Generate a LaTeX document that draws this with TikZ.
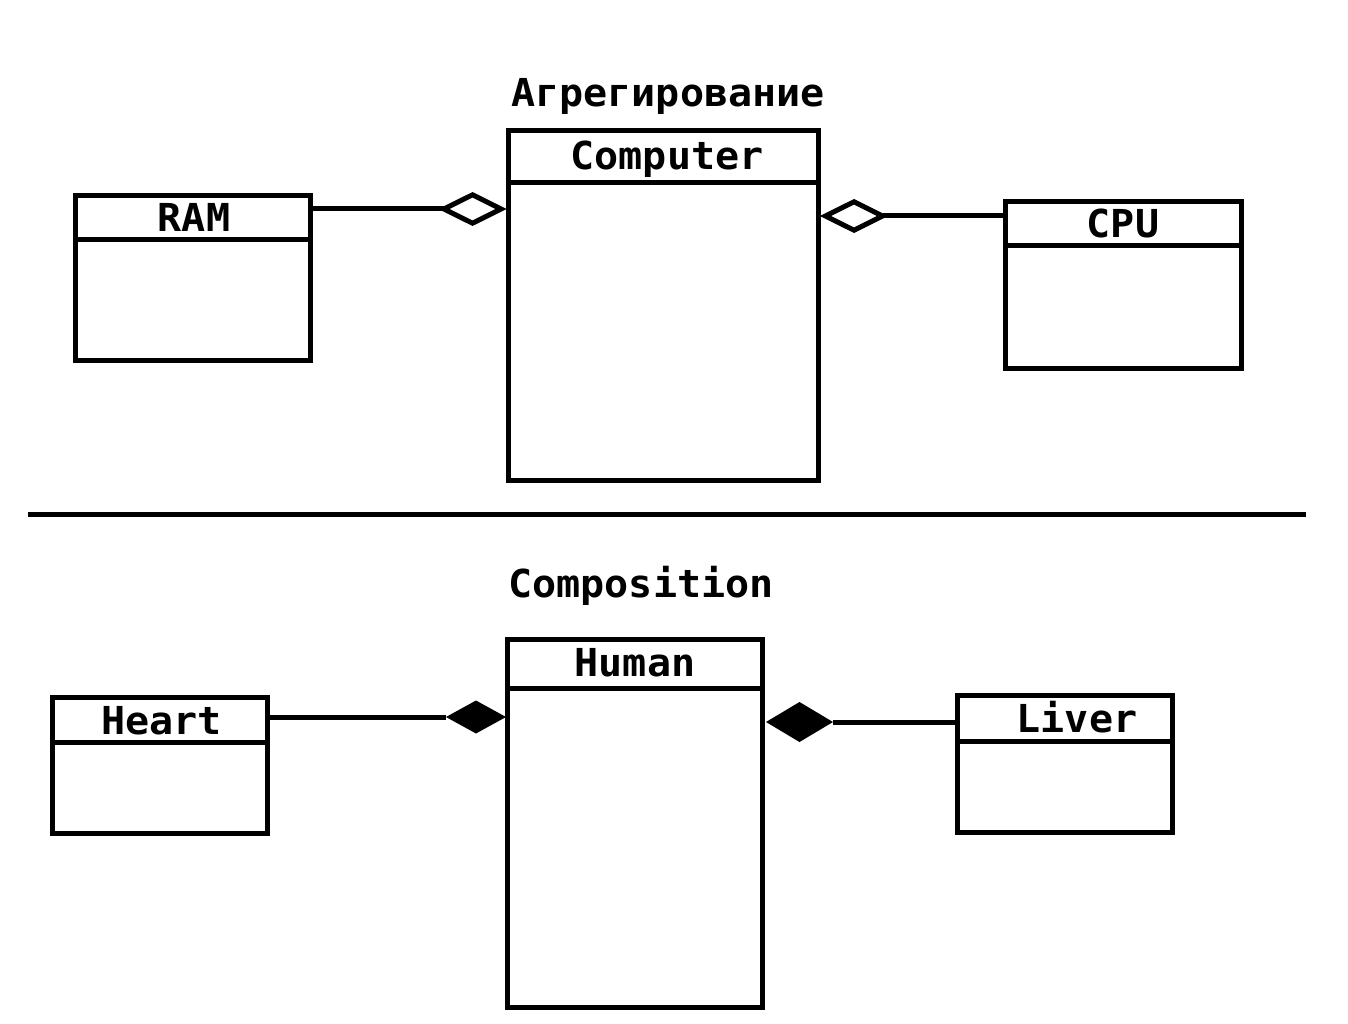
\documentclass[tikz,border=0pt]{standalone}
\usepackage{fontspec}
\newfontfamily\umlfont[FakeStretch=1.04]{DejaVu Sans Mono}
\begin{document}
\begin{tikzpicture}[x=1pt,y=-1pt,
  lw/.style={line width=5pt},
  classbox/.style 2 args={draw, line width=5pt, rectangle, inner sep=0pt, minimum width=#1, minimum height=#2},
  label/.style={anchor=base, inner sep=0pt, font=\umlfont\bfseries\fontsize{38.5}{40}\selectfont},
  opendiamond/.style={draw, fill=white, line width=5pt, miter limit=10},
  filldiamond/.style={fill=black, draw=none}]
\useasboundingbox (0,0) rectangle (1348,1024);
% titles
\node[label] (ttop) at (668,107) {Агрегирование};
\node[label] (tbot) at (641,597) {Composition};
% boxes
\node[classbox={235pt}{165pt}] (ram) at (193,278) {};
\node[classbox={310pt}{350pt}] (computer) at (663.5,305.5) {};
\node[classbox={236pt}{167pt}] (cpu) at (1123.5,285) {};
\node[classbox={255pt}{368pt}] (human) at (635,823.5) {};
\node[classbox={215pt}{136pt}] (heart) at (160,765.5) {};
\node[classbox={215pt}{137pt}] (liver) at (1065,764) {};
% dividers
\draw[lw] (ram.west |- 0,240) -- (ram.east |- 0,240);
\draw[lw] (computer.west |- 0,182.5) -- (computer.east |- 0,182.5);
\draw[lw] (cpu.west |- 0,246) -- (cpu.east |- 0,246);
\draw[lw] (human.west |- 0,688.5) -- (human.east |- 0,688.5);
\draw[lw] (heart.west |- 0,742.5) -- (heart.east |- 0,742.5);
\draw[lw] (liver.west |- 0,741.5) -- (liver.east |- 0,741.5);
% class names
\node[label] (lram) at (194,232) {RAM};
\node[label] (lcomputer) at (667,170) {Computer};
\node[label] (lcpu) at (1123,238) {CPU};
\node[label] (lhuman) at (635,676) {Human};
\node[label] (lheart) at (161.5,734) {Heart};
\node[label] (lliver) at (1077,732) {Liver};
% separator
\coordinate (sepL) at (28,514);
\coordinate (sepR) at (1306,514);
\draw[lw] (sepL) -- (sepR);
% aggregation connectors
\coordinate (d1) at (444,209);
\draw[lw] (ram.east |- d1) -- (d1);
\draw[opendiamond] (d1) -- ++(28.5,-14.2) -- ++(28.5,14.2) -- ++(-28.5,14.2) -- cycle;
\coordinate (d2) at (882.5,216);
\draw[lw] (cpu.west |- d2) -- (d2);
\draw[opendiamond] (d2) -- ++(-28.5,-14.2) -- ++(-28.5,14.2) -- ++(28.5,14.2) -- cycle;
% composition connectors
\coordinate (d3) at (446,717);
\draw[lw] (heart.east |- d3) -- (d3);
\fill[filldiamond] (d3) -- ++(30,-16.5) -- ++(30,16.5) -- ++(-30,16.5) -- cycle;
\coordinate (d4) at (833,722);
\draw[lw] (liver.west |- d4) -- (d4);
\fill[filldiamond] (d4) -- ++(-33.5,-20) -- ++(-33.5,20) -- ++(33.5,20) -- cycle;
\end{tikzpicture}
\end{document}
